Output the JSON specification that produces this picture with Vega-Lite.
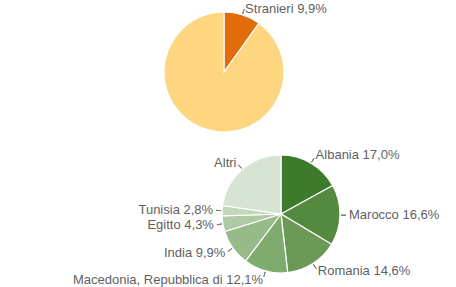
{
  "$schema": "https://vega.github.io/schema/vega-lite/v6.json",
  "padding": 0,
  "background": "white",
  "spacing": 0,
  "bounds": "flush",
  "resolve": {"scale": {"color": "independent", "theta": "independent"}},
  "config": {
    "view": {"stroke": null},
    "text": {"font": "Liberation Sans", "fontSize": 13, "fill": "#5f5f5f"}
  },
  "vconcat": [
    {
      "width": 448,
      "height": 144,
      "data": {
        "values": [
          {"i": 1, "gruppo": "Stranieri", "pct": 9.9, "label": "Stranieri 9,9%"},
          {"i": 2, "gruppo": "Italiani", "pct": 90.1, "label": ""}
        ]
      },
      "encoding": {
        "theta": {"field": "pct", "type": "quantitative", "stack": true},
        "order": {"field": "i", "type": "quantitative"}
      },
      "layer": [
        {
          "mark": {"type": "arc", "outerRadius": 60, "stroke": "white", "strokeWidth": 1.2},
          "encoding": {
            "color": {
              "field": "gruppo",
              "type": "nominal",
              "scale": {"domain": ["Stranieri", "Italiani"], "range": ["#e36c0a", "#ffd680"]},
              "legend": null
            }
          }
        },
        {
          "mark": {"type": "arc", "innerRadius": 61, "outerRadius": 66, "padAngle": 3.1, "stroke": "#777777", "strokeWidth": 1, "fillOpacity": 0},
          "encoding": {
            "strokeOpacity": {"condition": {"test": "datum.label === ''", "value": 0}, "value": 1}
          }
        },
        {
          "mark": {"type": "text", "radius": 69, "dy": 3, "baseline": "middle", "align": {"expr": "(datum.pct_start + datum.pct_end) < 100 ? 'left' : 'right'"}},
          "encoding": {"text": {"field": "label", "type": "nominal"}}
        }
      ]
    },
    {
      "hconcat": [
        {
          "width": 106,
          "height": 140,
          "data": {"values": []},
          "mark": {"type": "point", "opacity": 0}
        },
        {
          "width": 350,
          "height": 140,
          "data": {
            "values": [
              {"i": 1, "paese": "Albania", "pct": 17.0, "label": "Albania 17,0%"},
              {"i": 2, "paese": "Marocco", "pct": 16.6, "label": "Marocco 16,6%"},
              {"i": 3, "paese": "Romania", "pct": 14.6, "label": "Romania 14,6%"},
              {"i": 4, "paese": "Macedonia, Repubblica di", "pct": 12.1, "label": "Macedonia, Repubblica di 12,1%"},
              {"i": 5, "paese": "India", "pct": 9.9, "label": "India 9,9%"},
              {"i": 6, "paese": "Egitto", "pct": 4.3, "label": "Egitto 4,3%"},
              {"i": 7, "paese": "Tunisia", "pct": 2.8, "label": "Tunisia 2,8%"},
              {"i": 8, "paese": "Altri", "pct": 22.7, "label": "Altri"}
            ]
          },
          "encoding": {
            "theta": {"field": "pct", "type": "quantitative", "stack": true},
            "order": {"field": "i", "type": "quantitative"}
          },
          "layer": [
            {
              "mark": {"type": "arc", "outerRadius": 59, "stroke": "white", "strokeWidth": 1.2},
              "encoding": {
                "color": {
                  "field": "paese",
                  "type": "nominal",
                  "scale": {
                    "domain": ["Albania", "Marocco", "Romania", "Macedonia, Repubblica di", "India", "Egitto", "Tunisia", "Altri"],
                    "range": ["#3e7a2c", "#548a40", "#6a9a56", "#80ab6e", "#97bb88", "#aecaa2", "#c3d7ba", "#d8e4d3"]
                  },
                  "legend": null
                }
              }
            },
            {
              "mark": {"type": "arc", "innerRadius": 60, "outerRadius": 65, "padAngle": 3.1, "stroke": "#777777", "strokeWidth": 1, "fillOpacity": 0},
              "encoding": {}
            },
            {
              "mark": {"type": "text", "radius": 68, "baseline": "middle", "align": {"expr": "(datum.pct_start + datum.pct_end) < 100 ? 'left' : 'right'"}},
              "encoding": {"text": {"field": "label", "type": "nominal"}}
            }
          ]
        }
      ],
      "spacing": 0,
      "bounds": "flush"
    }
  ]
}
